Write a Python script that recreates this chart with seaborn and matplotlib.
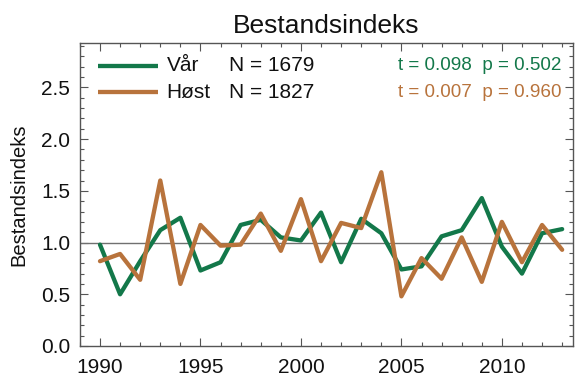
import matplotlib
matplotlib.use("Agg")
import matplotlib.pyplot as plt
from matplotlib.ticker import MultipleLocator
import numpy as np
import pandas as pd
import seaborn as sns

years = list(range(1990, 2014))
var_index = [0.98, 0.50, 0.82, 1.12, 1.24, 0.73, 0.81, 1.17, 1.22, 1.05,
             1.02, 1.29, 0.81, 1.23, 1.09, 0.74, 0.77, 1.06, 1.12, 1.43,
             0.96, 0.70, 1.09, 1.13]
host_index = [0.82, 0.89, 0.64, 1.60, 0.60, 1.17, 0.97, 0.98, 1.28, 0.92,
              1.42, 0.82, 1.19, 1.14, 1.68, 0.48, 0.85, 0.65, 1.05, 0.62,
              1.20, 0.81, 1.17, 0.93]
series_names = ["Vår", "Høst"]
series_n = ["N = 1679", "N = 1827"]
series_stats = ["t = 0.098  p = 0.502", "t = 0.007  p = 0.960"]
colors = ["#13784a", "#b8733c"]

df = pd.DataFrame({
    "År": years * 2,
    "Indeks": var_index + host_index,
    "Sesong": [series_names[0]] * len(years) + [series_names[1]] * len(years),
})

sns.set_theme(style="white")
plt.rcParams["font.family"] = ["Liberation Sans", "DejaVu Sans"]

fig = plt.figure(figsize=(5.79, 3.80), dpi=100)
ax = fig.add_axes([0.138, 0.0895, 0.852, 0.7975])

ax.axhline(1.0, color="#707070", lw=1.0, zorder=1)
sns.lineplot(data=df, x="År", y="Indeks", hue="Sesong",
             palette=dict(zip(series_names, colors)), lw=3.1,
             ax=ax, legend=False, zorder=3)

ax.set_xlim(1989, 2013.55)
ax.set_ylim(0, 2.93)
ax.xaxis.set_major_locator(MultipleLocator(5))
ax.xaxis.set_minor_locator(MultipleLocator(1))
ax.yaxis.set_major_locator(MultipleLocator(0.5))
ax.yaxis.set_minor_locator(MultipleLocator(0.1))
ax.yaxis.set_major_formatter(matplotlib.ticker.FormatStrFormatter("%.1f"))
ax.tick_params(which="both", direction="in", top=True, right=True,
               bottom=True, left=True, color="#555555", width=0.8)
ax.tick_params(which="major", length=6, labelsize=15, labelcolor="#111111")
ax.tick_params(axis="x", which="major", pad=9)
ax.tick_params(axis="y", which="major", pad=7)
ax.tick_params(which="minor", length=3)
for s in ax.spines.values():
    s.set_color("#555555")
    s.set_linewidth(1.0)

ax.set_xlabel("")
ax.set_ylabel("Bestandsindeks", fontsize=14.5, labelpad=9, color="#111111")
ax.set_title("Bestandsindeks", fontsize=19, pad=7, color="#111111")

# legend rows: line sample, season name, count; statistics on the right
row_y = [0.925, 0.838]
for i in range(2):
    ax.plot([0.037, 0.158], [row_y[i], row_y[i]], transform=ax.transAxes,
            color=colors[i], lw=3.1, solid_capstyle="butt", clip_on=False)
    ax.text(0.176, row_y[i], series_names[i], transform=ax.transAxes,
            fontsize=15, va="center", ha="left", color="#111111")
    ax.text(0.303, row_y[i], series_n[i], transform=ax.transAxes,
            fontsize=15, va="center", ha="left", color="#111111")
    ax.text(0.977, row_y[i], series_stats[i], transform=ax.transAxes,
            fontsize=13.6, va="center", ha="right", color=colors[i])

fig.savefig("out.png", dpi=100)
